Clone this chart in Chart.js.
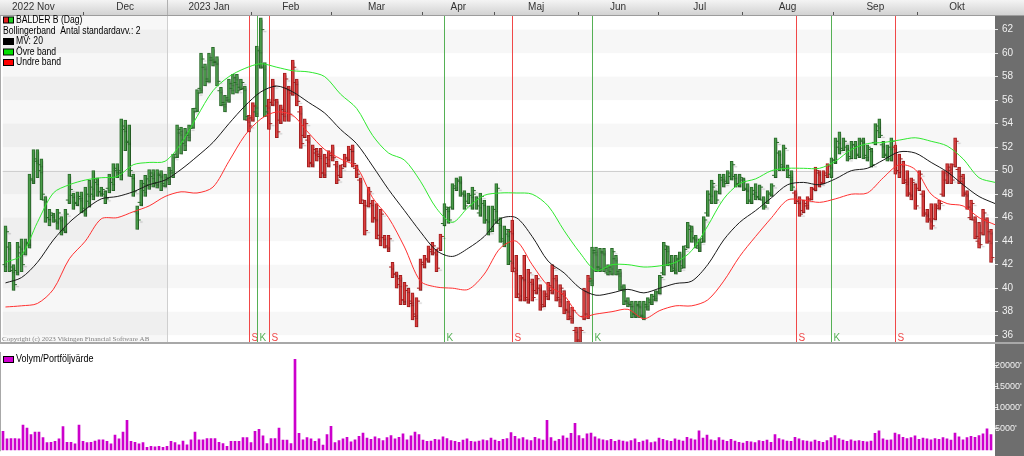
<!DOCTYPE html>
<html>
<head>
<meta charset="utf-8">
<script src="https://cdn.jsdelivr.net/npm/chart.js@4.4.1/dist/chart.umd.min.js"></script>
<style>
  html, body { margin: 0; padding: 0; background: #fff; }
  #wrap { width: 1024px; height: 456px; overflow: hidden; }
  canvas { display: block; }
</style>
</head>
<body>
<div id="wrap">
  <canvas id="priceChart" width="1024" height="352"></canvas>
  <canvas id="volumeChart" width="1024" height="104"></canvas>
</div>
<script>
// daily bars, one per trading day (Nov 2022 - Oct 2023)
const highs = [
  45.3,43.9,42.0,43.9,44.2,44.2,49.7,51.8,51.8,51.0,
  47.8,46.7,46.4,46.7,46.1,46.7,49.7,48.1,48.2,48.2,
  48.6,49.2,50.0,49.4,48.6,48.3,49.7,50.6,50.6,54.4,
  54.3,53.9,49.7,47.0,49.2,49.6,50.1,50.1,50.1,50.0,
  49.7,50.3,51.4,53.9,53.7,53.6,53.9,55.3,56.9,60.0,
  59.1,60.0,60.5,59.7,57.1,56.4,57.8,58.2,58.2,57.8,
  57.2,54.7,55.8,60.6,63.0,59.2,56.1,57.8,56.1,55.6,
  58.3,57.2,59.4,57.8,55.5,54.4,53.0,52.2,51.9,51.9,
  51.4,51.7,52.2,50.8,50.5,51.4,52.1,52.2,50.5,49.4,
  47.5,48.6,47.5,47.2,46.7,44.5,44.5,42.2,41.4,41.1,
  40.5,40.0,39.6,39.2,42.5,42.8,43.6,43.9,43.3,44.6,
  47.2,46.9,48.9,49.4,49.5,48.3,48.1,48.6,47.8,48.1,
  47.5,47.0,47.0,48.9,46.0,45.3,45.0,45.8,42.8,41.1,
  42.8,41.6,40.8,41.1,40.3,39.8,40.5,42.0,41.1,40.3,
  39.8,38.9,38.4,36.7,36.7,40.0,41.1,43.5,43.5,43.4,
  43.4,42.0,43.4,42.8,41.6,40.3,39.2,38.9,38.9,38.9,
  38.9,39.2,39.5,39.8,41.1,43.9,43.6,42.8,42.8,43.1,
  43.6,45.6,45.3,44.5,44.2,46.1,48.3,49.2,48.3,49.7,
  49.7,50.0,50.8,49.7,49.7,49.4,48.9,48.6,48.9,48.8,
  47.8,48.3,48.9,52.8,51.7,52.2,50.5,50.0,48.3,47.8,
  47.5,47.8,48.6,50.3,50.0,50.0,50.6,51.1,52.8,53.3,
  52.8,52.2,52.5,52.5,52.8,52.8,52.2,51.9,54.0,54.4,
  52.5,52.2,52.8,52.2,51.4,50.8,50.0,49.4,48.9,50.0,
  48.3,46.7,47.2,47.2,47.5,50.0,50.6,50.6,52.8,50.3,
  49.7,48.3,47.5,46.1,45.6,46.7,46.0,45.0
];
const lows = [
  41.4,41.4,39.8,41.1,41.4,42.8,43.4,48.9,49.4,47.5,
  45.6,45.3,45.6,45.0,44.5,44.7,47.2,46.7,47.0,46.4,
  46.1,46.9,47.5,47.8,47.8,47.2,48.1,48.3,49.4,49.2,
  51.7,49.5,47.8,45.0,47.0,47.8,48.4,48.6,48.5,48.3,
  48.6,48.8,49.4,51.1,51.4,51.7,52.5,53.6,55.0,56.6,
  57.2,57.5,58.9,57.2,55.5,55.0,55.8,56.5,56.6,56.9,
  54.3,53.3,54.2,54.6,58.7,54.6,53.5,55.5,52.8,54.0,
  54.2,54.2,56.4,55.5,51.9,52.8,50.3,50.3,50.8,49.4,
  49.4,50.3,50.8,48.9,49.4,50.3,50.8,50.3,49.4,47.2,
  44.5,46.9,45.6,44.2,43.6,43.4,43.1,40.9,40.0,38.6,
  38.6,38.4,37.3,36.7,39.8,41.7,42.2,42.8,41.4,43.2,
  45.3,45.5,46.7,48.3,47.8,46.7,47.2,46.7,46.7,46.1,
  45.5,44.5,44.8,45.5,43.9,43.5,42.0,41.4,39.2,38.9,
  38.9,38.7,38.9,39.5,38.1,38.4,39.0,39.5,38.9,38.4,
  37.8,37.3,37.0,35.2,35.2,37.3,37.4,40.2,41.4,41.4,
  41.4,41.1,41.1,41.1,39.8,38.6,38.4,37.5,37.5,37.5,
  37.3,38.1,38.6,38.9,39.5,41.1,41.9,41.4,41.2,41.4,
  41.7,43.4,43.9,43.4,43.1,43.9,46.1,47.2,47.2,48.0,
  48.6,48.9,49.2,48.6,48.6,48.3,47.2,47.2,47.5,47.5,
  46.7,47.2,47.8,49.4,50.0,50.0,49.4,48.3,47.2,46.1,
  46.4,46.7,47.5,48.3,48.6,48.9,49.4,49.4,50.6,51.4,
  51.7,50.8,51.0,51.0,51.1,51.0,50.8,50.3,52.2,52.8,
  51.1,50.8,50.8,49.7,49.4,48.9,47.8,47.5,46.7,48.3,
  46.1,45.6,45.0,45.8,46.7,47.8,48.9,48.9,50.3,48.9,
  47.8,46.7,45.8,44.2,43.4,44.5,43.8,42.2
];
const opens = [
  42.0,43.5,41.5,41.5,43.0,42.9,43.8,49.3,50.8,50.5,
  47.5,46.0,46.2,45.7,45.9,45.0,47.5,47.9,47.3,47.6,
  46.5,47.4,48.0,49.0,48.2,48.0,48.5,49.0,50.0,50.0,
  53.5,52.5,49.5,46.5,47.3,48.3,48.8,49.5,49.0,49.6,
  48.9,49.2,49.8,51.4,53.2,52.3,53.0,53.8,55.3,57.0,
  58.8,57.8,59.4,59.3,56.8,55.6,56.2,57.0,57.5,57.1,
  57.0,54.3,54.5,55.0,59.0,58.8,55.5,55.8,56.0,54.3,
  54.8,57.0,56.6,57.5,55.0,53.0,52.6,50.6,51.5,51.4,
  49.8,50.6,51.5,50.5,49.6,50.5,51.0,51.8,50.2,49.2,
  47.2,47.0,47.2,46.0,44.2,44.3,43.5,41.8,41.2,40.8,
  39.0,39.8,38.9,37.8,40.0,42.0,42.4,43.1,43.0,43.4,
  45.5,46.7,46.9,48.5,49.1,48.0,47.4,47.0,48.0,46.4,
  47.2,45.8,45.0,45.8,45.5,44.0,44.6,44.8,41.4,39.2,
  40.9,39.0,40.5,39.8,40.0,38.6,39.3,39.8,40.8,39.0,
  39.5,38.2,37.4,36.4,35.5,37.6,37.8,40.6,43.0,41.8,
  43.1,41.3,41.4,42.5,41.2,39.9,38.9,38.6,37.8,38.5,
  37.6,38.4,38.8,39.0,39.7,41.3,43.3,42.0,41.5,42.4,
  41.9,43.6,45.0,44.3,43.4,44.2,46.4,47.5,48.6,48.2,
  49.2,49.1,49.5,49.5,48.8,49.2,48.4,47.4,48.0,47.8,
  47.5,47.0,48.0,49.6,51.5,50.5,50.2,49.4,48.1,47.4,
  46.6,47.0,47.6,48.5,49.8,49.0,49.6,49.7,50.9,52.0,
  51.9,52.0,51.2,52.2,51.4,52.5,51.1,51.8,52.4,53.4,
  52.2,51.3,51.0,52.0,50.0,50.5,49.0,48.0,49.0,48.5,
  48.0,46.3,45.8,45.9,46.8,48.0,49.2,50.0,50.5,50.1,
  49.5,48.1,46.0,45.8,44.0,44.7,45.8,44.8
];
const closes = [
  44.8,41.8,40.3,43.5,42.0,43.9,49.2,51.0,50.0,48.0,
  46.0,46.4,45.8,46.4,44.9,46.3,48.4,47.2,47.8,46.8,
  48.0,48.6,49.3,48.2,48.4,47.6,49.4,50.2,49.8,53.8,
  52.4,50.0,48.2,45.8,48.9,49.3,49.8,48.9,49.7,48.7,
  49.4,50.0,51.1,53.5,52.6,53.2,53.6,55.0,56.6,59.5,
  57.6,59.6,59.2,57.6,55.8,56.0,57.4,57.9,56.8,57.5,
  54.6,53.8,55.5,60.2,62.0,55.0,54.0,57.2,53.3,55.2,
  57.8,54.8,58.8,55.9,52.3,54.0,50.7,51.8,51.2,49.8,
  51.1,51.3,51.1,49.2,50.2,51.1,51.8,50.6,49.7,47.5,
  44.9,48.2,45.9,44.5,46.3,43.6,44.2,41.2,40.3,39.0,
  40.2,38.7,37.6,38.9,42.2,42.5,43.3,43.6,41.7,44.4,
  46.9,45.8,48.7,49.2,48.1,47.0,47.9,48.3,47.0,47.8,
  45.8,44.8,46.7,48.5,44.2,45.0,42.3,41.7,39.5,40.8,
  39.2,41.3,39.2,40.8,38.4,39.5,40.2,41.7,39.2,40.0,
  38.1,37.6,38.1,35.6,36.4,39.7,40.8,43.2,41.8,43.0,
  41.7,41.8,43.1,41.4,40.1,38.9,38.6,37.8,38.6,37.7,
  38.6,39.0,39.3,39.6,40.9,43.6,42.2,41.7,42.5,41.7,
  43.3,45.3,44.2,43.6,43.9,45.8,48.0,48.9,47.5,49.4,
  48.9,49.8,50.5,48.9,49.4,48.5,47.5,48.3,47.7,48.6,
  46.9,48.1,48.7,52.4,50.3,51.9,49.6,48.6,47.4,46.3,
  47.2,47.5,48.4,50.0,48.9,49.8,50.4,50.9,52.5,51.7,
  52.5,51.0,52.2,51.3,52.6,51.3,52.0,50.5,53.8,53.0,
  51.4,52.0,52.5,50.0,51.0,49.2,48.1,49.2,47.0,49.7,
  46.4,45.9,45.3,47.0,47.2,49.8,50.3,49.2,52.5,49.1,
  48.0,46.9,47.2,44.4,43.7,46.4,44.0,42.6
];
// volume in thousands of shares
const volumes = [
  4.4,2.6,2.7,2.7,2.6,5.9,5.2,3.6,4.2,4.2,
  2.9,1.7,1.8,2.0,2.6,5.5,1.8,1.8,1.4,5.9,
  2.0,1.7,1.8,2.1,2.4,2.4,2.0,1.4,3.5,2.6,
  4.2,7.0,2.0,1.8,1.4,1.7,0.6,0.8,0.7,0.8,
  0.6,0.8,2.0,1.7,1.2,2.1,1.2,2.4,4.2,2.4,
  2.4,2.7,2.7,2.7,1.8,1.5,0.8,2.0,2.0,2.0,
  2.9,2.9,1.7,4.4,4.9,3.3,1.5,2.7,2.7,5.2,
  2.3,2.3,1.5,21.5,3.9,2.4,2.9,2.6,2.0,2.6,
  1.1,3.6,5.6,1.7,2.2,2.6,3.0,1.9,2.4,3.2,
  4.0,2.8,2.5,3.1,2.7,2.2,2.9,3.4,2.6,3.0,
  3.8,2.4,3.3,4.2,3.6,2.3,2.0,2.1,2.5,2.4,
  3.1,2.7,2.2,2.0,1.8,2.3,2.6,2.0,1.9,2.1,
  2.4,2.2,2.8,2.3,2.0,2.5,2.7,4.1,3.2,2.6,
  2.9,2.4,2.2,3.0,2.6,2.3,7.0,2.9,2.1,2.5,
  3.3,2.8,3.9,6.3,3.4,2.7,3.8,4.0,3.1,2.6,
  2.4,2.2,2.5,2.0,2.3,2.1,1.9,2.2,2.6,1.8,
  2.1,2.4,1.7,1.9,2.8,2.5,2.2,2.0,2.6,2.3,
  2.1,3.0,2.6,2.4,4.5,2.8,3.5,2.4,2.2,2.9,
  2.3,2.0,2.5,2.1,1.8,1.6,2.0,1.9,1.7,2.2,
  2.0,2.3,1.8,3.6,2.7,2.4,2.1,2.0,3.0,2.6,
  2.2,2.1,1.9,2.3,2.0,1.8,2.2,2.9,3.4,2.7,
  2.3,2.0,2.4,2.1,2.2,2.0,1.9,2.1,3.9,4.5,
  2.6,2.3,2.4,4.0,3.6,3.0,2.7,2.9,3.3,2.5,
  2.8,2.6,2.4,2.7,2.5,2.9,2.6,2.3,4.0,3.1,
  2.4,2.9,3.2,3.0,3.4,3.8,5.0,3.6
];
// Bollinger band (MV 20, 2 std) read every 4th day
const bandStep = 4;
const upperBand = [
  42.2,42.8,45.6,48.1,48.8,49.2,49.4,49.5,50.5,50.7,
  50.8,52.3,54.6,56.8,58.0,58.7,59.1,58.8,58.5,58.4,
  58.0,56.5,55.3,53.0,51.5,50.9,49.1,46.8,45.6,46.9,
  47.9,48.1,48.1,48.0,47.0,44.9,43.0,41.5,42.0,42.0,
  41.8,41.9,42.2,43.2,45.3,47.6,48.9,49.3,50.0,50.2,
  50.2,50.2,50.8,51.8,52.3,52.4,52.6,52.8,52.5,52.1,
  51.0,49.4,49.0
];
const midBand = [
  40.45,40.9,42.2,44.1,45.6,46.7,47.6,47.8,48.2,48.8,
  49.2,50.1,51.2,52.4,54.0,55.5,56.7,57.2,56.7,55.8,
  54.9,53.5,52.3,50.4,48.4,46.6,44.8,43.2,42.7,43.4,
  44.4,45.9,46.0,44.4,42.3,41.3,40.0,39.4,39.6,39.9,
  39.6,40.0,40.4,40.6,42.0,44.1,45.6,46.6,47.7,48.8,
  49.0,48.8,49.3,50.0,50.2,50.9,51.6,51.5,50.7,49.9,
  48.8,47.8,47.2
];
const lowerBand = [
  38.4,38.5,38.7,39.9,42.5,44.0,45.9,46.0,46.5,47.0,
  47.8,48.2,48.1,48.6,50.8,53.0,54.4,55.0,54.7,53.2,
  51.8,51.0,50.3,47.7,46.0,43.5,40.6,40.1,40.0,39.9,
  41.2,43.4,44.0,42.0,40.2,39.4,37.6,37.8,38.0,38.2,
  37.4,38.1,38.5,38.5,39.0,40.6,42.7,44.4,46.0,47.5,
  47.5,47.3,47.6,48.0,48.1,49.4,50.5,50.1,48.0,47.2,
  47.0,46.0,45.4
];
// köp (K) / sälj (S) signals, by day index
const signalDays = [61, 63, 66, 110, 127, 147, 198, 207, 223];
const signalTypes = ['S', 'K', 'S', 'K', 'S', 'K', 'S', 'K', 'S'];
// month header
const monthNames = ['2022 Nov', 'Dec', '2023 Jan', 'Feb', 'Mar', 'Apr', 'Maj', 'Jun', 'Jul', 'Aug', 'Sep', 'Okt'];
const monthStarts = [-5, 20, 41, 62, 82, 105, 123, 144, 164, 185, 208, 229];
const priceTicks = [36, 38, 40, 42, 44, 46, 48, 50, 52, 54, 56, 58, 60, 62];
const volumeTicks = [5, 10, 15, 20];
const volumeTickLabels = ["5000'", "10000'", "15000'", "20000'"];
const legendLabels = ['BALDER B (Dag)', 'Bollingerband  Antal standardavv.: 2', 'MV: 20', 'Övre band', 'Undre band'];

const X_MIN = -0.75, X_MAX = 248;
const FONT = '"Liberation Sans", Arial, sans-serif';
const GREEN = '#4a9c4a', GREEN_EDGE = '#2a6a2a';
const RED = '#da4040', RED_EDGE = '#a41e1e';
const AXIS_BG = '#6e6e6e';

const days = highs.map((_, i) => i);
function isBuy(i) {
  let buy = true;
  signalDays.forEach((d, k) => { if (d <= i) buy = signalTypes[k] === 'K'; });
  return buy;
}
const fill = days.map(i => isBuy(i) ? GREEN : RED);
const edge = days.map(i => isBuy(i) ? GREEN_EDGE : RED_EDGE);
const bandPoints = arr => arr.map((v, k) => ({ x: k * bandStep, y: v }));

function xAxis(show) {
  return {
    type: 'linear', min: X_MIN, max: X_MAX, offset: false, position: 'top', display: show,
    grid: { display: false }, border: { display: false }, ticks: { display: false },
    afterFit(s) { s.height = show ? 16 : 0; }
  };
}

// narrow text like the original's small bitmap font
function narrowText(ctx, text, x, y, squeeze) {
  ctx.save();
  ctx.translate(x, y);
  ctx.scale(squeeze, 1);
  ctx.fillText(text, 0, 0);
  ctx.restore();
}

// shadow under the price bars
const shadowPlugin = {
  id: 'shadow',
  beforeDatasetDraw(chart, args) {
    if (!chart.data.datasets[args.index].shadow) return;
    const c = chart.ctx;
    c.save();
    c.shadowColor = 'rgba(0,0,0,0.22)';
    c.shadowOffsetX = 2;
    c.shadowOffsetY = 2;
    c.shadowBlur = 1;
  },
  afterDatasetDraw(chart, args) {
    if (chart.data.datasets[args.index].shadow) chart.ctx.restore();
  }
};

const pricePanel = {
  id: 'pricePanel',
  beforeDraw(chart) {
    const { ctx, chartArea: a, width, height } = chart;
    const xs = chart.scales.x, ys = chart.scales.y;
    ctx.save();
    ctx.fillStyle = '#ffffff';
    ctx.fillRect(0, 0, width, height);

    ctx.save();
    ctx.beginPath();
    ctx.rect(a.left, a.top, a.width, a.height);
    ctx.clip();
    for (let v = 34; v < 64; v += 2) {
      if ((v / 2) % 2 === 1) continue;
      const y1 = ys.getPixelForValue(v + 2), y2 = ys.getPixelForValue(v);
      ctx.fillStyle = '#f7f7f7';
      ctx.fillRect(a.left, y1, a.width, y2 - y1);
    }
    const yearX = Math.round(xs.getPixelForValue(monthStarts[2] - 0.5)) + 0.5;
    ctx.fillStyle = 'rgba(0,0,0,0.03)';
    ctx.fillRect(a.left, a.top, yearX - a.left, a.height);
    ctx.strokeStyle = '#cfcfcf';
    ctx.lineWidth = 1;
    ctx.beginPath();
    ctx.moveTo(yearX, 0); ctx.lineTo(yearX, a.bottom);
    const y50 = Math.round(ys.getPixelForValue(50)) + 0.5;
    ctx.moveTo(a.left, y50); ctx.lineTo(a.right, y50);
    ctx.stroke();
    ctx.restore();

    // value axis panel
    ctx.fillStyle = AXIS_BG;
    ctx.fillRect(a.right, a.top, width - a.right, height - a.top);

    // month header
    const g = ctx.createLinearGradient(0, 0, 0, a.top);
    g.addColorStop(0, '#f4f4f4');
    g.addColorStop(1, '#d0d0d0');
    ctx.fillStyle = g;
    ctx.fillRect(0, 0, width, a.top);
    ctx.fillStyle = '#9c9c9c';
    ctx.fillRect(0, a.top - 1, width, 1);
    ctx.strokeStyle = '#555';
    ctx.beginPath();
    monthStarts.slice(1).forEach(m => {
      const x = Math.round(xs.getPixelForValue(m - 0.5)) + 0.5;
      ctx.moveTo(x, a.top - 4); ctx.lineTo(x, a.top - 1);
    });
    ctx.stroke();
    ctx.strokeStyle = '#b0b0b0';
    ctx.beginPath();
    ctx.moveTo(yearX, 0); ctx.lineTo(yearX, a.top - 1);
    ctx.stroke();
    ctx.fillStyle = '#333';
    ctx.font = '10px ' + FONT;
    ctx.textAlign = 'center';
    ctx.textBaseline = 'middle';
    monthNames.forEach((name, k) => {
      const end = k + 1 < monthStarts.length ? monthStarts[k + 1] : X_MAX + 1;
      const x = xs.getPixelForValue((monthStarts[k] + end) / 2 - 0.5);
      ctx.fillText(name, x, 7.5);
    });
    ctx.restore();
  },
  beforeDatasetsDraw(chart) {
    const { ctx, chartArea: a } = chart;
    const xs = chart.scales.x;
    ctx.save();
    ctx.lineWidth = 1;
    ctx.font = '10px ' + FONT;
    ctx.textBaseline = 'alphabetic';
    signalDays.forEach((d, k) => {
      const col = signalTypes[k] === 'K' ? '#55b055' : '#f04848';
      const x = Math.round(xs.getPixelForValue(d)) + 0.5;
      ctx.strokeStyle = col;
      ctx.beginPath();
      ctx.moveTo(x, a.top); ctx.lineTo(x, a.bottom);
      ctx.stroke();
      ctx.fillStyle = col;
      ctx.fillText(signalTypes[k], x + 2, a.bottom - 1);
    });
    ctx.restore();
  },
  afterDraw(chart) {
    const { ctx, chartArea: a, width } = chart;
    ctx.save();
    // legend
    ctx.font = '10px ' + FONT;
    ctx.textBaseline = 'middle';
    const rowY = [20, 31, 41.5, 52, 62.5];
    const swatch = (y, c1, c2) => {
      ctx.fillStyle = '#000';
      ctx.fillRect(3, y - 3.5, 11, 7);
      ctx.fillStyle = c1;
      ctx.fillRect(4, y - 2.5, c2 ? 4 : 9, 5);
      if (c2) { ctx.fillStyle = c2; ctx.fillRect(9, y - 2.5, 4, 5); }
    };
    swatch(rowY[0], '#e02020', '#20d020');
    swatch(rowY[2], '#000000');
    swatch(rowY[3], '#00e000');
    swatch(rowY[4], '#ff0000');
    ctx.fillStyle = '#000';
    narrowText(ctx, legendLabels[0], 16, rowY[0], 0.86);
    narrowText(ctx, legendLabels[1], 3, rowY[1], 0.86);
    narrowText(ctx, legendLabels[2], 16, rowY[2], 0.86);
    narrowText(ctx, legendLabels[3], 16, rowY[3], 0.86);
    narrowText(ctx, legendLabels[4], 16, rowY[4], 0.86);
    // copyright
    ctx.font = '7px "Liberation Serif", serif';
    ctx.fillStyle = '#808080';
    ctx.fillText('Copyright (c) 2023 Vikingen Financial Software AB', 2, a.bottom - 3);
    // panel border
    ctx.fillStyle = '#a8a8a8';
    ctx.fillRect(0, a.bottom, width, 2);
    ctx.fillRect(0, a.top, 1, a.height);
    ctx.restore();
  }
};

const volumePanel = {
  id: 'volumePanel',
  beforeDraw(chart) {
    const { ctx, chartArea: a, width, height } = chart;
    ctx.save();
    ctx.fillStyle = '#ffffff';
    ctx.fillRect(0, 0, width, height);
    ctx.fillStyle = AXIS_BG;
    ctx.fillRect(a.right, 0, width - a.right, height);
    ctx.restore();
  },
  afterDraw(chart) {
    const { ctx, chartArea: a } = chart;
    ctx.save();
    ctx.fillStyle = '#000';
    ctx.fillRect(3, 4, 11, 7);
    ctx.fillStyle = '#d000d0';
    ctx.fillRect(4, 5, 9, 5);
    ctx.fillStyle = '#000';
    ctx.font = '10px ' + FONT;
    ctx.textBaseline = 'middle';
    narrowText(ctx, 'Volym/Portföljvärde', 16, 7.5, 0.9);
    ctx.fillStyle = '#a8a8a8';
    ctx.fillRect(0, 0, a.left + 1, a.height);
    ctx.restore();
  }
};

const priceChart = new Chart(document.getElementById('priceChart'), {
  type: 'line',
  data: {
    datasets: [
      {
        type: 'line', data: bandPoints(upperBand), borderColor: '#2fe82f', borderWidth: 1,
        pointRadius: 0, tension: 0.3, order: 1
      },
      {
        type: 'line', data: bandPoints(midBand), borderColor: '#1a1a1a', borderWidth: 1,
        pointRadius: 0, tension: 0.3, order: 1
      },
      {
        type: 'line', data: bandPoints(lowerBand), borderColor: '#ff3030', borderWidth: 1,
        pointRadius: 0, tension: 0.3, order: 1
      },
      {
        type: 'bar', shadow: true, order: 3,
        data: days.map(i => ({ x: i, y: [lows[i], highs[i]] })),
        backgroundColor: fill, borderColor: edge, borderWidth: 1, borderSkipped: false,
        barThickness: 3
      },
      {
        type: 'scatter', shadow: true, order: 2,
        data: days.map(i => ({ x: i - 0.5, y: opens[i] })),
        pointStyle: 'line', pointRadius: 1.5, pointBorderWidth: 1, pointBorderColor: edge,
        pointHoverRadius: 0
      },
      {
        type: 'scatter', shadow: true, order: 2,
        data: days.map(i => ({ x: i + 0.5, y: closes[i] })),
        pointStyle: 'line', pointRadius: 1.5, pointBorderWidth: 1, pointBorderColor: edge,
        pointHoverRadius: 0
      }
    ]
  },
  options: {
    responsive: false, animation: false, devicePixelRatio: 1,
    layout: { padding: { left: 0, right: 0, top: 0, bottom: 2 } },
    events: [],
    scales: {
      x: xAxis(true),
      y: {
        type: 'linear', position: 'right', min: 35.42, max: 63.16,
        afterBuildTicks(s) { s.ticks = priceTicks.map(v => ({ value: v })); },
        afterFit(s) { s.width = 29; },
        grid: { drawOnChartArea: false, drawTicks: true, tickLength: 3, color: '#e6e6e6' },
        border: { display: false },
        ticks: { color: '#f0f0f0', font: { family: FONT, size: 10 }, padding: 4 }
      }
    },
    plugins: { legend: { display: false }, tooltip: { enabled: false } }
  },
  plugins: [pricePanel, shadowPlugin]
});

const volumeChart = new Chart(document.getElementById('volumeChart'), {
  type: 'bar',
  data: {
    datasets: [{
      data: days.map(i => ({ x: i, y: volumes[i] })),
      backgroundColor: '#cc00cc', barThickness: 2, borderWidth: 0
    }]
  },
  options: {
    responsive: false, animation: false, devicePixelRatio: 1,
    layout: { padding: 0 },
    events: [],
    scales: {
      x: xAxis(false),
      y: {
        type: 'linear', position: 'right', min: -0.9, max: 22.7,
        afterBuildTicks(s) { s.ticks = volumeTicks.map(v => ({ value: v })); },
        afterFit(s) { s.width = 29; },
        grid: { drawOnChartArea: false, drawTicks: true, tickLength: 3, color: '#e6e6e6' },
        border: { display: false },
        ticks: {
          color: '#f0f0f0', font: { family: FONT, size: 9 }, padding: -3,
          callback: (v, idx) => volumeTickLabels[idx]
        }
      }
    },
    plugins: { legend: { display: false }, tooltip: { enabled: false } }
  },
  plugins: [volumePanel]
});
</script>
</body>
</html>
